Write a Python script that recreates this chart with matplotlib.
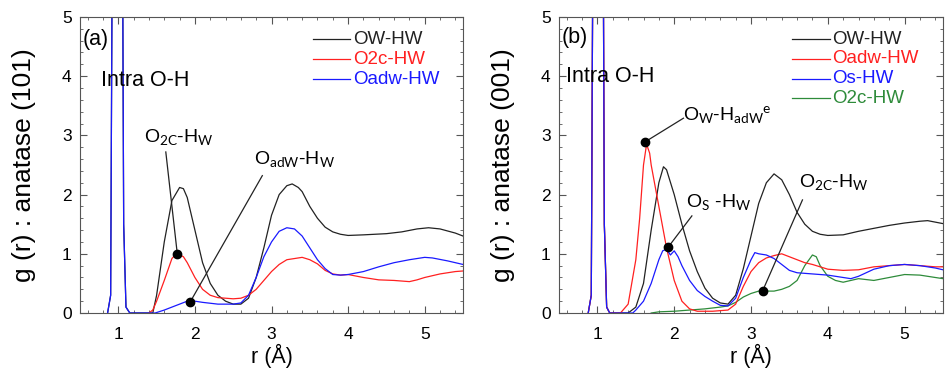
import matplotlib.pyplot as plt
from matplotlib.ticker import MultipleLocator

plt.rcParams['font.family'] = ['Liberation Sans', 'DejaVu Sans']
plt.rcParams['mathtext.fontset'] = 'custom'
plt.rcParams['mathtext.rm'] = 'Lato'
plt.rcParams['mathtext.it'] = 'Lato'

# ---- panel (a): anatase (101) ----
a_ow_r = [0.86, 0.9, 0.92, 0.95, 0.98, 1.02, 1.05, 1.07, 1.1, 1.15, 1.45, 1.5, 1.6, 1.7, 1.8, 1.85,
          1.9, 2.0, 2.1, 2.2, 2.3, 2.4, 2.5, 2.6, 2.7, 2.8, 2.9, 3.0, 3.1, 3.2, 3.27, 3.35, 3.4,
          3.5, 3.6, 3.7, 3.8, 3.9, 4.0, 4.2, 4.5, 4.7, 4.9, 5.05, 5.2, 5.4, 5.5]
a_ow_g = [0, 0.3, 6, 20, 25, 20, 8, 1.5, 0.1, 0, 0, 0.3, 1.2, 1.9, 2.12, 2.1,
          1.95, 1.4, 0.85, 0.5, 0.3, 0.2, 0.15, 0.15, 0.25, 0.6, 1.1, 1.65, 2.0, 2.15, 2.18, 2.12, 2.05,
          1.8, 1.6, 1.45, 1.37, 1.33, 1.31, 1.32, 1.34, 1.37, 1.42, 1.44, 1.42, 1.35, 1.3]

a_o2c_r = [1.4, 1.45, 1.5, 1.6, 1.7, 1.76, 1.85, 1.9, 2.0, 2.1, 2.2, 2.3, 2.5, 2.6, 2.7, 2.8, 2.9,
           3.0, 3.1, 3.2, 3.3, 3.4, 3.5, 3.6, 3.7, 3.8, 3.9, 4.0, 4.2, 4.4, 4.6, 4.8, 4.9, 5.0,
           5.2, 5.4, 5.5]
a_o2c_g = [0, 0.05, 0.2, 0.55, 0.92, 1.01, 0.95, 0.85, 0.6, 0.4, 0.3, 0.26, 0.24, 0.25, 0.3, 0.4, 0.55,
           0.7, 0.82, 0.9, 0.92, 0.94, 0.9, 0.83, 0.72, 0.66, 0.64, 0.65, 0.6, 0.56, 0.55, 0.53, 0.56, 0.6,
           0.66, 0.7, 0.71]

a_oadw_r = [0.86, 0.9, 0.92, 0.95, 0.98, 1.02, 1.05, 1.07, 1.1, 1.15, 1.48, 1.6, 1.8, 1.9, 2.0, 2.1,
            2.3, 2.5, 2.6, 2.7, 2.8, 2.9, 3.0, 3.1, 3.2, 3.3, 3.4, 3.5, 3.6, 3.7, 3.8, 3.9, 4.0,
            4.2, 4.4, 4.6, 4.8, 5.0, 5.1, 5.3, 5.5]
a_oadw_g = [0, 0.3, 6, 20, 25, 20, 8, 1.5, 0.1, 0, 0, 0.05, 0.15, 0.2, 0.2, 0.18,
            0.15, 0.15, 0.17, 0.3, 0.6, 0.95, 1.2, 1.38, 1.44, 1.42, 1.3, 1.1, 0.9, 0.75, 0.65, 0.64, 0.65,
            0.7, 0.78, 0.85, 0.9, 0.94, 0.93, 0.88, 0.82]

# ---- panel (b): anatase (001) ----
b_ow_r = [0.88, 0.92, 0.94, 0.97, 1.0, 1.04, 1.07, 1.09, 1.12, 1.16, 1.4, 1.5, 1.6, 1.7, 1.8, 1.86,
          1.9, 2.0, 2.1, 2.2, 2.3, 2.4, 2.5, 2.6, 2.7, 2.8, 2.9, 3.0, 3.1, 3.2, 3.3, 3.4, 3.5,
          3.6, 3.7, 3.8, 3.9, 4.0, 4.2, 4.4, 4.6, 4.8, 5.0, 5.2, 5.3, 5.5]
b_ow_g = [0, 0.3, 6, 20, 25, 20, 8, 1.5, 0.1, 0, 0, 0.1, 0.5, 1.4, 2.2, 2.47,
          2.42, 2.0, 1.5, 1.05, 0.7, 0.42, 0.25, 0.17, 0.15, 0.3, 0.75, 1.3, 1.85, 2.2, 2.35, 2.25, 2.0,
          1.7, 1.5, 1.38, 1.33, 1.31, 1.32, 1.38, 1.43, 1.48, 1.52, 1.55, 1.56, 1.51]

b_oadw_r = [0.88, 0.92, 0.94, 0.97, 1.0, 1.04, 1.07, 1.09, 1.12, 1.16, 1.3, 1.4, 1.5, 1.55, 1.6, 1.64,
            1.68, 1.7, 1.8, 1.9, 2.0, 2.1, 2.2, 2.3, 2.5, 2.7, 2.8, 2.9, 3.0, 3.1, 3.2, 3.3, 3.4,
            3.5, 3.6, 3.7, 3.8, 3.9, 4.0, 4.2, 4.4, 4.6, 4.8, 5.0, 5.2, 5.4, 5.5]
b_oadw_g = [0, 0.3, 6, 20, 25, 20, 8, 1.5, 0.1, 0, 0, 0.15, 0.9, 1.6, 2.5, 2.85,
            2.7, 2.5, 1.8, 1.1, 0.55, 0.2, 0.07, 0.03, 0.03, 0.05, 0.15, 0.45, 0.7, 0.85, 0.93, 0.97, 1.0,
            0.95, 0.9, 0.85, 0.82, 0.78, 0.74, 0.72, 0.73, 0.78, 0.8, 0.82, 0.8, 0.78, 0.78]

b_os_r = [0.88, 0.92, 0.94, 0.97, 1.0, 1.04, 1.07, 1.09, 1.12, 1.16, 1.46, 1.5, 1.6, 1.7, 1.8, 1.85,
          1.9, 1.95, 2.0, 2.05, 2.1, 2.2, 2.3, 2.4, 2.5, 2.6, 2.7, 2.8, 2.9, 3.0, 3.05, 3.1, 3.2,
          3.3, 3.4, 3.5, 3.6, 3.7, 3.8, 4.0, 4.2, 4.3, 4.4, 4.6, 4.8, 5.0, 5.2, 5.4, 5.5]
b_os_g = [0, 0.3, 6, 20, 25, 20, 8, 1.5, 0.1, 0, 0, 0.05, 0.2, 0.5, 0.9, 1.05,
          1.08, 0.98, 1.05, 0.95, 0.8, 0.55, 0.38, 0.28, 0.2, 0.13, 0.12, 0.25, 0.6, 0.9, 1.02, 1.0, 0.98,
          0.92, 0.82, 0.72, 0.68, 0.67, 0.66, 0.64, 0.6, 0.58, 0.62, 0.74, 0.8, 0.82, 0.8, 0.76, 0.73]

b_o2c_r = [1.7, 1.8, 2.0, 2.2, 2.4, 2.6, 2.7, 2.8, 2.9, 3.0, 3.1, 3.2, 3.3, 3.4, 3.5, 3.6, 3.7,
           3.8, 3.85, 3.9, 4.0, 4.1, 4.2, 4.3, 4.4, 4.6, 4.8, 5.0, 5.2, 5.4, 5.5]
b_o2c_g = [0.0, 0.02, 0.03, 0.05, 0.07, 0.1, 0.12, 0.18, 0.27, 0.33, 0.37, 0.37, 0.37, 0.4, 0.45, 0.55, 0.8,
           0.98, 0.95, 0.8, 0.62, 0.55, 0.52, 0.55, 0.58, 0.55, 0.6, 0.65, 0.64, 0.6, 0.58]

BLACK = '#222222'
RED = '#ff2020'
BLUE = '#1a1aff'
GREEN = '#2e8b3a'


def style_axes(ax, ylabel):
    ax.set_xlim(0.5, 5.5)
    ax.set_ylim(0, 5)
    ax.xaxis.set_major_locator(MultipleLocator(1))
    ax.xaxis.set_minor_locator(MultipleLocator(0.2))
    ax.yaxis.set_major_locator(MultipleLocator(1))
    ax.yaxis.set_minor_locator(MultipleLocator(0.2))
    ax.tick_params(which='both', direction='in', top=True, right=True, labelsize=12.5, color='#555555')
    ax.tick_params(which='major', length=5)
    ax.tick_params(which='minor', length=2.5)
    ax.tick_params(axis='x', pad=10)
    ax.tick_params(axis='y', pad=6)
    for s in ax.spines.values():
        s.set_color('#555555')
    ax.set_xlabel('r (Å)', fontsize=15.5, va='center')
    ax.xaxis.set_label_coords(0.5, -0.145)
    ax.set_ylabel(ylabel, fontsize=19, va='center')
    ax.yaxis.set_label_coords(-0.145, 0.5)


def callout(ax, xy, xytext, text, tx, ty):
    ax.plot([xy[0], xytext[0]], [xy[1], xytext[1]], color='#222222', lw=0.9)
    ax.plot(xy[0], xy[1], 'o', color='black', ms=6)
    ax.text(tx, ty, text, fontsize=14, va='center', ha='left')


def legend_rows(ax, rows, y0, dy):
    for i, (label, color) in enumerate(rows):
        y = y0 - i * dy
        ax.plot([3.54, 4.03], [y, y], color=color, lw=0.9)
        ax.text(4.06, y, label, color=color, fontsize=13.5, va='center', ha='left')


fig = plt.figure(figsize=(9.48, 3.71), dpi=100)
ax1 = fig.add_axes([0.0844, 0.1563, 0.404, 0.798])
ax2 = fig.add_axes([0.5897, 0.1563, 0.405, 0.798])

# panel (a)
ax1.plot(a_ow_r, a_ow_g, color=BLACK, lw=0.9)
ax1.plot(a_o2c_r, a_o2c_g, color=RED, lw=0.9)
ax1.plot(a_oadw_r, a_oadw_g, color=BLUE, lw=0.9)
style_axes(ax1, 'g (r) : anatase (101)')
ax1.text(0.54, 4.62, '(a)', fontsize=15.5, va='center')
ax1.text(0.78, 3.93, 'Intra O-H', fontsize=15.5, va='center')
legend_rows(ax1, [('OW-HW', BLACK), ('O2c-HW', RED), ('Oadw-HW', BLUE)], 4.62, 0.335)
callout(ax1, (1.77, 1.0), (1.62, 2.72), r'O$_{\mathrm{2C}}$-H$_{\mathrm{W}}$', 1.33, 2.97)
callout(ax1, (1.94, 0.19), (2.88, 2.32), r'O$_{\mathrm{adW}}$-H$_{\mathrm{W}}$', 2.77, 2.6)

# panel (b)
ax2.plot(b_ow_r, b_ow_g, color=BLACK, lw=0.9)
ax2.plot(b_o2c_r, b_o2c_g, color=GREEN, lw=0.9)
ax2.plot(b_oadw_r, b_oadw_g, color=RED, lw=0.9)
ax2.plot(b_os_r, b_os_g, color=BLUE, lw=0.9)
style_axes(ax2, 'g (r) : anatase (001)')
ax2.text(0.54, 4.66, '(b)', fontsize=15.5, va='center')
ax2.text(0.59, 4.0, 'Intra O-H', fontsize=15.5, va='center')
legend_rows(ax2, [('OW-HW', BLACK), ('Oadw-HW', RED), ('Os-HW', BLUE), ('O2c-HW', GREEN)], 4.62, 0.33)
callout(ax2, (1.62, 2.89), (2.12, 3.29), r'O$_{\mathrm{W}}$-H$_{\mathrm{adW}}$$^{\mathrm{e}}$', 2.12, 3.35)
callout(ax2, (1.92, 1.11), (2.23, 1.64), r'O$_{\mathrm{S}}$ -H$_{\mathrm{W}}$', 2.15, 1.88)
callout(ax2, (3.15, 0.37), (3.67, 1.91), r'O$_{\mathrm{2C}}$-H$_{\mathrm{W}}$', 3.62, 2.22)

fig.savefig('out.png', dpi=100)
